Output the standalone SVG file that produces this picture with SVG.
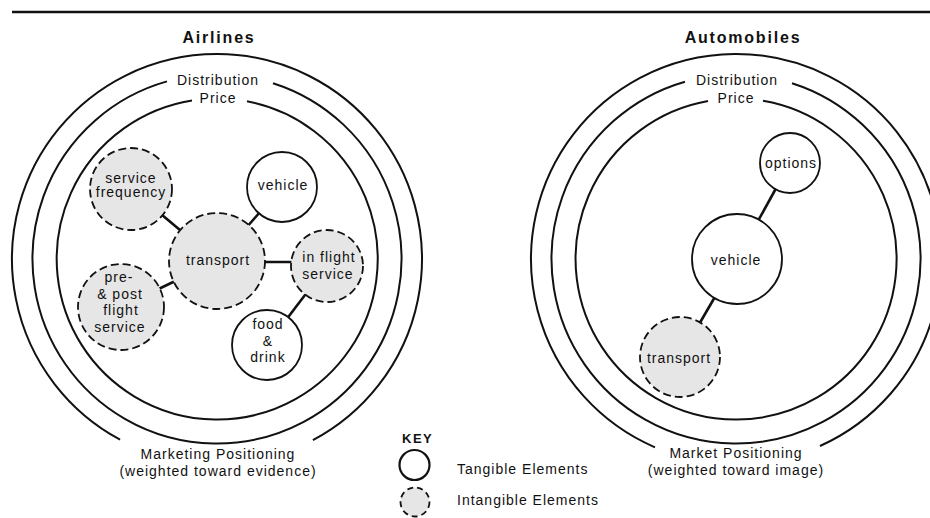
<svg xmlns="http://www.w3.org/2000/svg" width="930" height="518" viewBox="0 0 930 518">
<style>
  text { font-family: "Liberation Sans", Arial, Helvetica, sans-serif; font-size: 14px; letter-spacing: 1px; fill: #111; text-anchor: middle; }
  .title { font-size: 16px; font-weight: bold; letter-spacing: 1.8px; }
  .key { font-size: 13px; font-weight: bold; letter-spacing: 1.5px; text-anchor: start; }
  .kl { text-anchor: start; }
  .ring { fill: none; stroke: #111; stroke-width: 2; }
  .tang { fill: #fff; stroke: #111; stroke-width: 1.8; }
  .intang { fill: #e6e6e6; stroke: #111; stroke-width: 1.8; stroke-dasharray: 8 4; }
  .conn line { stroke: #111; stroke-width: 2.6; }
</style>
<rect width="930" height="518" fill="#fff"/>
<line x1="12" y1="12" x2="930" y2="12" stroke="#111" stroke-width="2.5"/>

<!-- Airlines -->
<g id="airlines-frame">
  <text class="title" x="219" y="43">Airlines</text>
  <path class="ring" d="M 120.1 439.7 A 205 205 0 1 1 312.9 440.2"/>
  <path class="ring" d="M 273 83.2 A 184.5 184.5 0 1 1 167 81.4"/>
  <path class="ring" d="M 247 101.3 A 160.5 160.5 0 1 1 192 100.5"/>
  <text x="218" y="85">Distribution</text>
  <text x="218" y="103">Price</text>
  <text x="218" y="459">Marketing Positioning</text>
  <text x="218" y="476">(weighted toward evidence)</text>
</g>

<g id="connectors" class="conn">
  <line x1="131" y1="189" x2="217" y2="261"/>
  <line x1="282" y1="187" x2="217" y2="261"/>
  <line x1="217" y1="262" x2="327" y2="262"/>
  <line x1="121" y1="307" x2="217" y2="261"/>
  <line x1="327" y1="266" x2="267" y2="345"/>
  <line x1="790" y1="163" x2="737" y2="259"/>
  <line x1="737" y1="259" x2="680" y2="357"/>
</g>

<g id="a-service-frequency">
  <circle class="intang" cx="131" cy="189" r="41"/>
  <text x="131" y="182.5">service</text>
  <text x="131" y="197">frequency</text>
</g>
<g id="a-vehicle">
  <circle class="tang" cx="282" cy="187" r="35"/>
  <text x="283" y="190">vehicle</text>
</g>
<g id="a-transport">
  <circle class="intang" cx="217" cy="261" r="48"/>
  <text x="218" y="265">transport</text>
</g>
<g id="a-in-flight">
  <circle class="intang" cx="327" cy="266" r="36"/>
  <text x="329" y="262">in flight</text>
  <text x="328" y="279">service</text>
</g>
<g id="a-pre-post">
  <circle class="intang" cx="121" cy="307" r="43"/>
  <text x="119" y="282.3">pre-</text>
  <text x="120" y="298.5">&amp; post</text>
  <text x="121" y="315">flight</text>
  <text x="120" y="331.5">service</text>
</g>
<g id="a-food-drink">
  <circle class="tang" cx="267" cy="345" r="35"/>
  <text x="268" y="329">food</text>
  <text x="268" y="345.5">&amp;</text>
  <text x="268" y="362">drink</text>
</g>

<!-- Automobiles -->
<g id="automobiles-frame">
  <text class="title" x="743" y="43">Automobiles</text>
  <path class="ring" d="M 655 447.3 A 205 205 0 1 1 820 446"/>
  <path class="ring" d="M 792 83.2 A 184.5 184.5 0 1 1 685 81.7"/>
  <path class="ring" d="M 763 100.8 A 160.5 160.5 0 1 1 708 101"/>
  <text x="737" y="85">Distribution</text>
  <text x="736" y="103">Price</text>
  <text x="736" y="458">Market Positioning</text>
  <text x="736" y="475">(weighted toward image)</text>
</g>
<g id="b-options">
  <circle class="tang" cx="790" cy="163" r="30"/>
  <text x="791" y="168">options</text>
</g>
<g id="b-vehicle">
  <circle class="tang" cx="737" cy="259" r="45"/>
  <text x="736" y="265">vehicle</text>
</g>
<g id="b-transport">
  <circle class="intang" cx="680" cy="357" r="40"/>
  <text x="679" y="363">transport</text>
</g>

<!-- Key -->
<g id="key">
  <text class="key" x="402" y="443">KEY</text>
  <circle cx="414.5" cy="465" r="15" fill="#fff" stroke="#111" stroke-width="2.2"/>
  <circle cx="415" cy="502" r="14.5" fill="#e6e6e6" stroke="#111" stroke-width="1.8" stroke-dasharray="6 4"/>
  <text class="kl" x="457" y="474">Tangible Elements</text>
  <text class="kl" x="457" y="505">Intangible Elements</text>
</g>
</svg>
